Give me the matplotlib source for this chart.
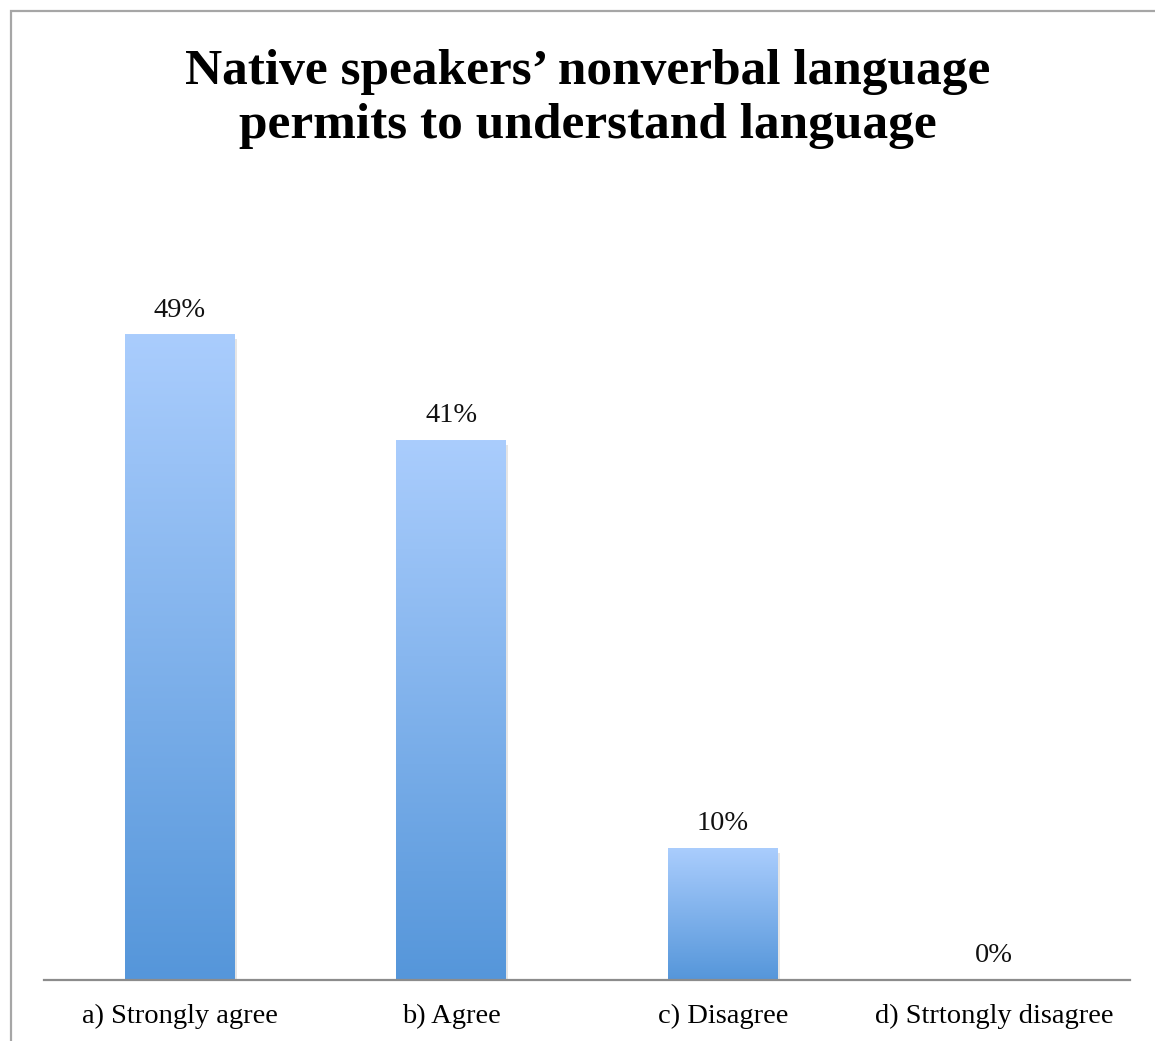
import numpy as np
import matplotlib
matplotlib.use('Agg')
from matplotlib import pyplot as plt
from matplotlib.patches import Rectangle
from matplotlib.colors import LinearSegmentedColormap

categories = ['a) Strongly agree', 'b) Agree', 'c) Disagree', 'd) Strtongly disagree']
percent = [49, 41, 10, 0]
title_lines = ['Native speakers\u2019 nonverbal language',
               'permits to understand language']

plt.rcParams['font.family'] = ['Liberation Serif', 'DejaVu Serif']

W, H = 1155, 1041
fig = plt.figure(figsize=(W / 100, H / 100), dpi=100)
ax = fig.add_axes([44 / W, (H - 980) / H, 1086 / W, 790 / H])

# outer chart frame (runs off the right and bottom edges)
fig.patches.append(Rectangle((11 / W, -0.1), 1.2, (H - 11) / H + 0.1,
                             transform=fig.transFigure, fill=False,
                             edgecolor='#a6a6a6', linewidth=1.6))

grad = LinearSegmentedColormap.from_list('blues', ['#5596da', '#aacdfd'])
ramp = np.linspace(0, 1, 256).reshape(-1, 1)
width = 0.405

x = np.arange(len(categories))
for xi, v in zip(x, percent):
    if v > 0:
        # soft shadow to the right and below
        ax.add_patch(Rectangle((xi - width / 2 + 0.008, -0.35), width, v,
                               facecolor='#000000', alpha=0.10, edgecolor='none', zorder=1))
        ax.imshow(ramp, cmap=grad, origin='lower', aspect='auto',
                  extent=(xi - width / 2, xi + width / 2, 0, v), zorder=2)
    ax.text(xi, v + 1.37, f'{v}%', ha='center', va='baseline', fontsize=20.5, color='#111111')

ax.set_xlim(-0.5, len(categories) - 0.5)
ax.set_ylim(0, 60)
ax.set_xticks(x)
ax.set_xticklabels(categories, fontsize=20.5)
ax.tick_params(axis='x', length=0, pad=17)
ax.set_yticks([])
for side in ['top', 'right', 'left']:
    ax.spines[side].set_visible(False)
ax.spines['bottom'].set_color('#8c8c8c')
ax.spines['bottom'].set_linewidth(1.6)
ax.spines['bottom'].set_zorder(3)

for line, base in zip(title_lines, [84, 138]):
    fig.text(0.5 + 10 / W, 1 - base / H, line, ha='center', va='baseline',
             fontsize=37, fontweight='bold')

fig.savefig('out.png', dpi=100)
